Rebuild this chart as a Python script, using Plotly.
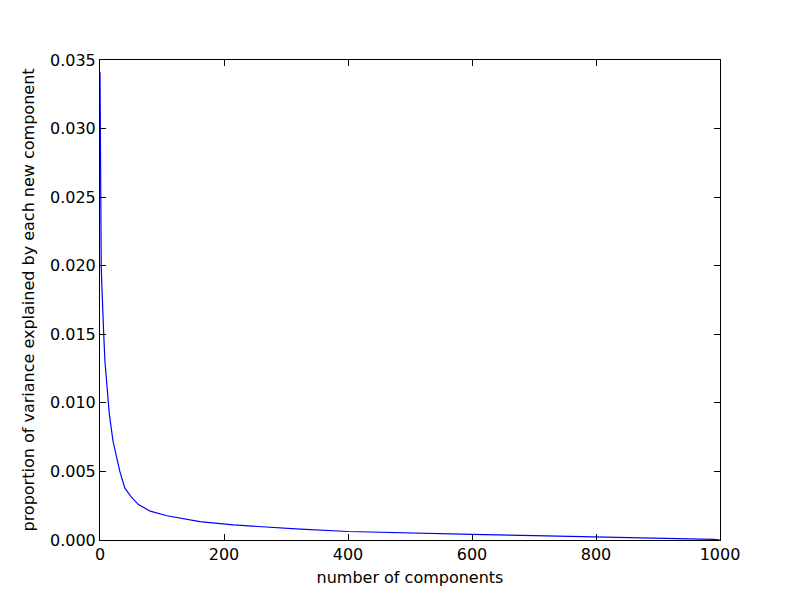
import plotly.graph_objects as go

components = [0, 1, 2, 3, 4, 6, 8, 11, 15, 21, 26, 32, 40, 51, 62, 81, 108,
              161, 215, 269, 323, 400, 500, 600, 700, 800, 900, 990, 999]
variance = [0.0341, 0.0235, 0.0200, 0.0185, 0.0170, 0.0150, 0.0130, 0.0112,
            0.0092, 0.0072, 0.0061, 0.0050, 0.0038, 0.0031, 0.00258, 0.0021,
            0.00177, 0.00134, 0.0011, 0.00093, 0.00079, 0.00062, 0.0005,
            0.00041, 0.00032, 0.00024, 0.00015, 0.00005, 0.00001]
x_ticks = [0, 200, 400, 600, 800, 1000]
y_ticks = [0.000, 0.005, 0.010, 0.015, 0.020, 0.025, 0.030, 0.035]

fig = go.Figure()
fig.add_trace(go.Scatter(x=components, y=variance, mode="lines",
                         line=dict(color="#0000ff", width=1.2),
                         showlegend=False))

font = dict(family="DejaVu Sans", size=16, color="black")
axis_common = dict(showline=True, linecolor="black", linewidth=1, mirror="ticks",
                   ticks="inside", ticklen=6, tickcolor="black", tickwidth=1,
                   showgrid=False, zeroline=False, tickfont=font, automargin=False)
fig.update_xaxes(range=[0, 1000], tickvals=x_ticks, ticktext=[str(v) for v in x_ticks],
                 title=dict(text="number of components", font=font, standoff=8),
                 **axis_common)
fig.update_yaxes(range=[0, 0.035], tickvals=y_ticks, ticktext=[f"{v:.3f}" for v in y_ticks],
                 title=dict(text="proportion of variance explained by each new component",
                            font=font, standoff=11),
                 **axis_common)
fig.update_layout(width=784, height=584, margin=dict(l=92, r=72, t=52, b=52),
                  plot_bgcolor="white", paper_bgcolor="white", font=font)
fig.write_html("out.html")
